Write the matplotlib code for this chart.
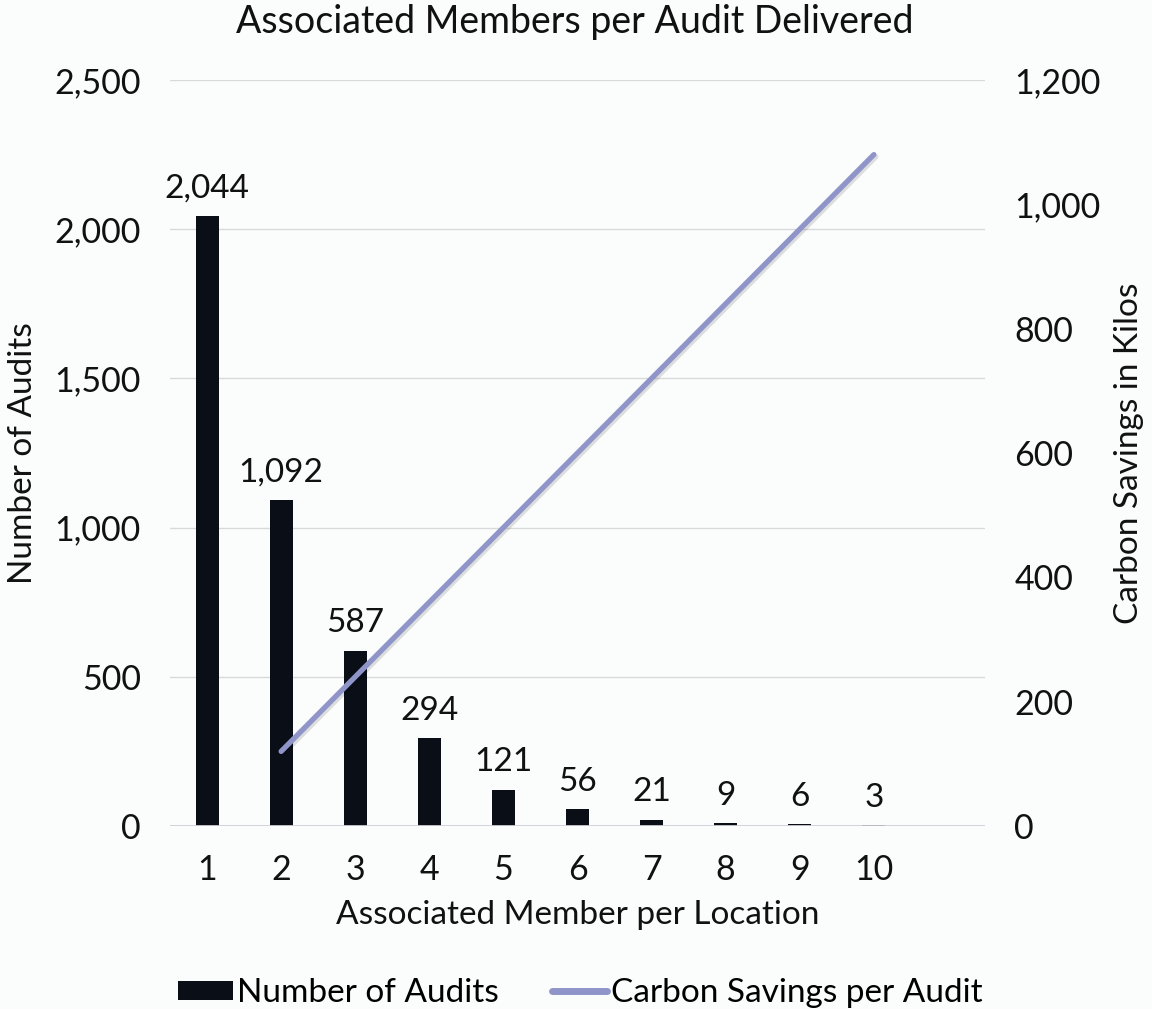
import matplotlib
matplotlib.use("Agg")
import matplotlib.pyplot as plt
import matplotlib.patheffects as pe
from matplotlib.ticker import FuncFormatter, MultipleLocator

plt.rcParams['font.family'] = ['Lato', 'DejaVu Sans']

members = [1, 2, 3, 4, 5, 6, 7, 8, 9, 10]
audits = [2044, 1092, 587, 294, 121, 56, 21, 9, 6, 3]
line_x = [2, 3, 4, 5, 6, 7, 8, 9, 10]
carbon = [120, 240, 360, 480, 600, 720, 840, 960, 1080]

bar_color = '#0a0e17'
line_color = '#8f95c9'
bg = '#fbfcfc'
txt = '#111111'

fig = plt.figure(figsize=(11.52, 10.09), dpi=100, facecolor=bg)
ax = fig.add_axes([170/1152, 1-826/1009, 815/1152, 746/1009], facecolor=bg)
ax2 = ax.twinx()

bars = ax.bar(members, audits, width=0.31, color=bar_color, zorder=3)
for x, v in zip(members, audits):
    ax.annotate(f"{v:,}", (x, v), xytext=(0, 9), textcoords='offset points',
                ha='center', va='bottom', fontsize=24, color=txt, zorder=5)

ax.set_xlim(0.5, 11.5)
ax.set_ylim(0, 2500)
ax.yaxis.set_major_locator(MultipleLocator(500))
ax.yaxis.set_major_formatter(FuncFormatter(lambda v, p: f"{int(v):,}"))
ax.set_xticks(members)
ax.set_xticklabels([str(m) for m in members])
ax.grid(axis='y', color='#d9d9d9', linewidth=1.0, zorder=0)
ax.set_axisbelow(True)

ln, = ax2.plot(line_x, carbon, color=line_color, linewidth=3.8,
               solid_capstyle='round', zorder=4,
               path_effects=[pe.SimpleLineShadow(offset=(1.5, -1.5), alpha=0.12),
                             pe.Normal()])
ax2.set_ylim(0, 1200)
ax2.yaxis.set_major_locator(MultipleLocator(200))
ax2.yaxis.set_major_formatter(FuncFormatter(lambda v, p: f"{int(v):,}"))

for a in (ax, ax2):
    for s in ['top', 'left', 'right', 'bottom']:
        a.spines[s].set_visible(False)
    a.tick_params(length=0, labelsize=24.5, colors=txt)

ax.axhline(0, color='#d0d0d8', linewidth=2.0, zorder=4)
ax.tick_params(axis='y', pad=21)
ax.tick_params(axis='x', pad=20)
ax2.tick_params(axis='y', pad=21)

ax.set_xlabel("Associated Member per Location", fontsize=24, labelpad=10, color=txt)
ax.set_ylabel("Number of Audits", fontsize=24, labelpad=12, color=txt)
ax2.set_ylabel("Carbon Savings in Kilos", fontsize=24, labelpad=10, color=txt)
fig.text(575/1152, 1-22/1009, "Associated Members per Audit Delivered",
         ha='center', va='center', fontsize=27, color=txt)

leg = fig.legend([bars, ln], ["Number of Audits", "Carbon Savings per Audit"],
                 loc='center', bbox_to_anchor=(580/1152, 1-993/1009), ncol=2,
                 frameon=False, fontsize=24, handlelength=1.65, handleheight=0.5,
                 columnspacing=1.6, handletextpad=0.12)
for h in leg.legend_handles:
    if hasattr(h, 'set_linewidth') and not hasattr(h, 'get_width'):
        h.set_linewidth(5)
        h.set_solid_capstyle('round')
        h.set_path_effects([])

fig.savefig("out.png", dpi=100, facecolor=bg)
